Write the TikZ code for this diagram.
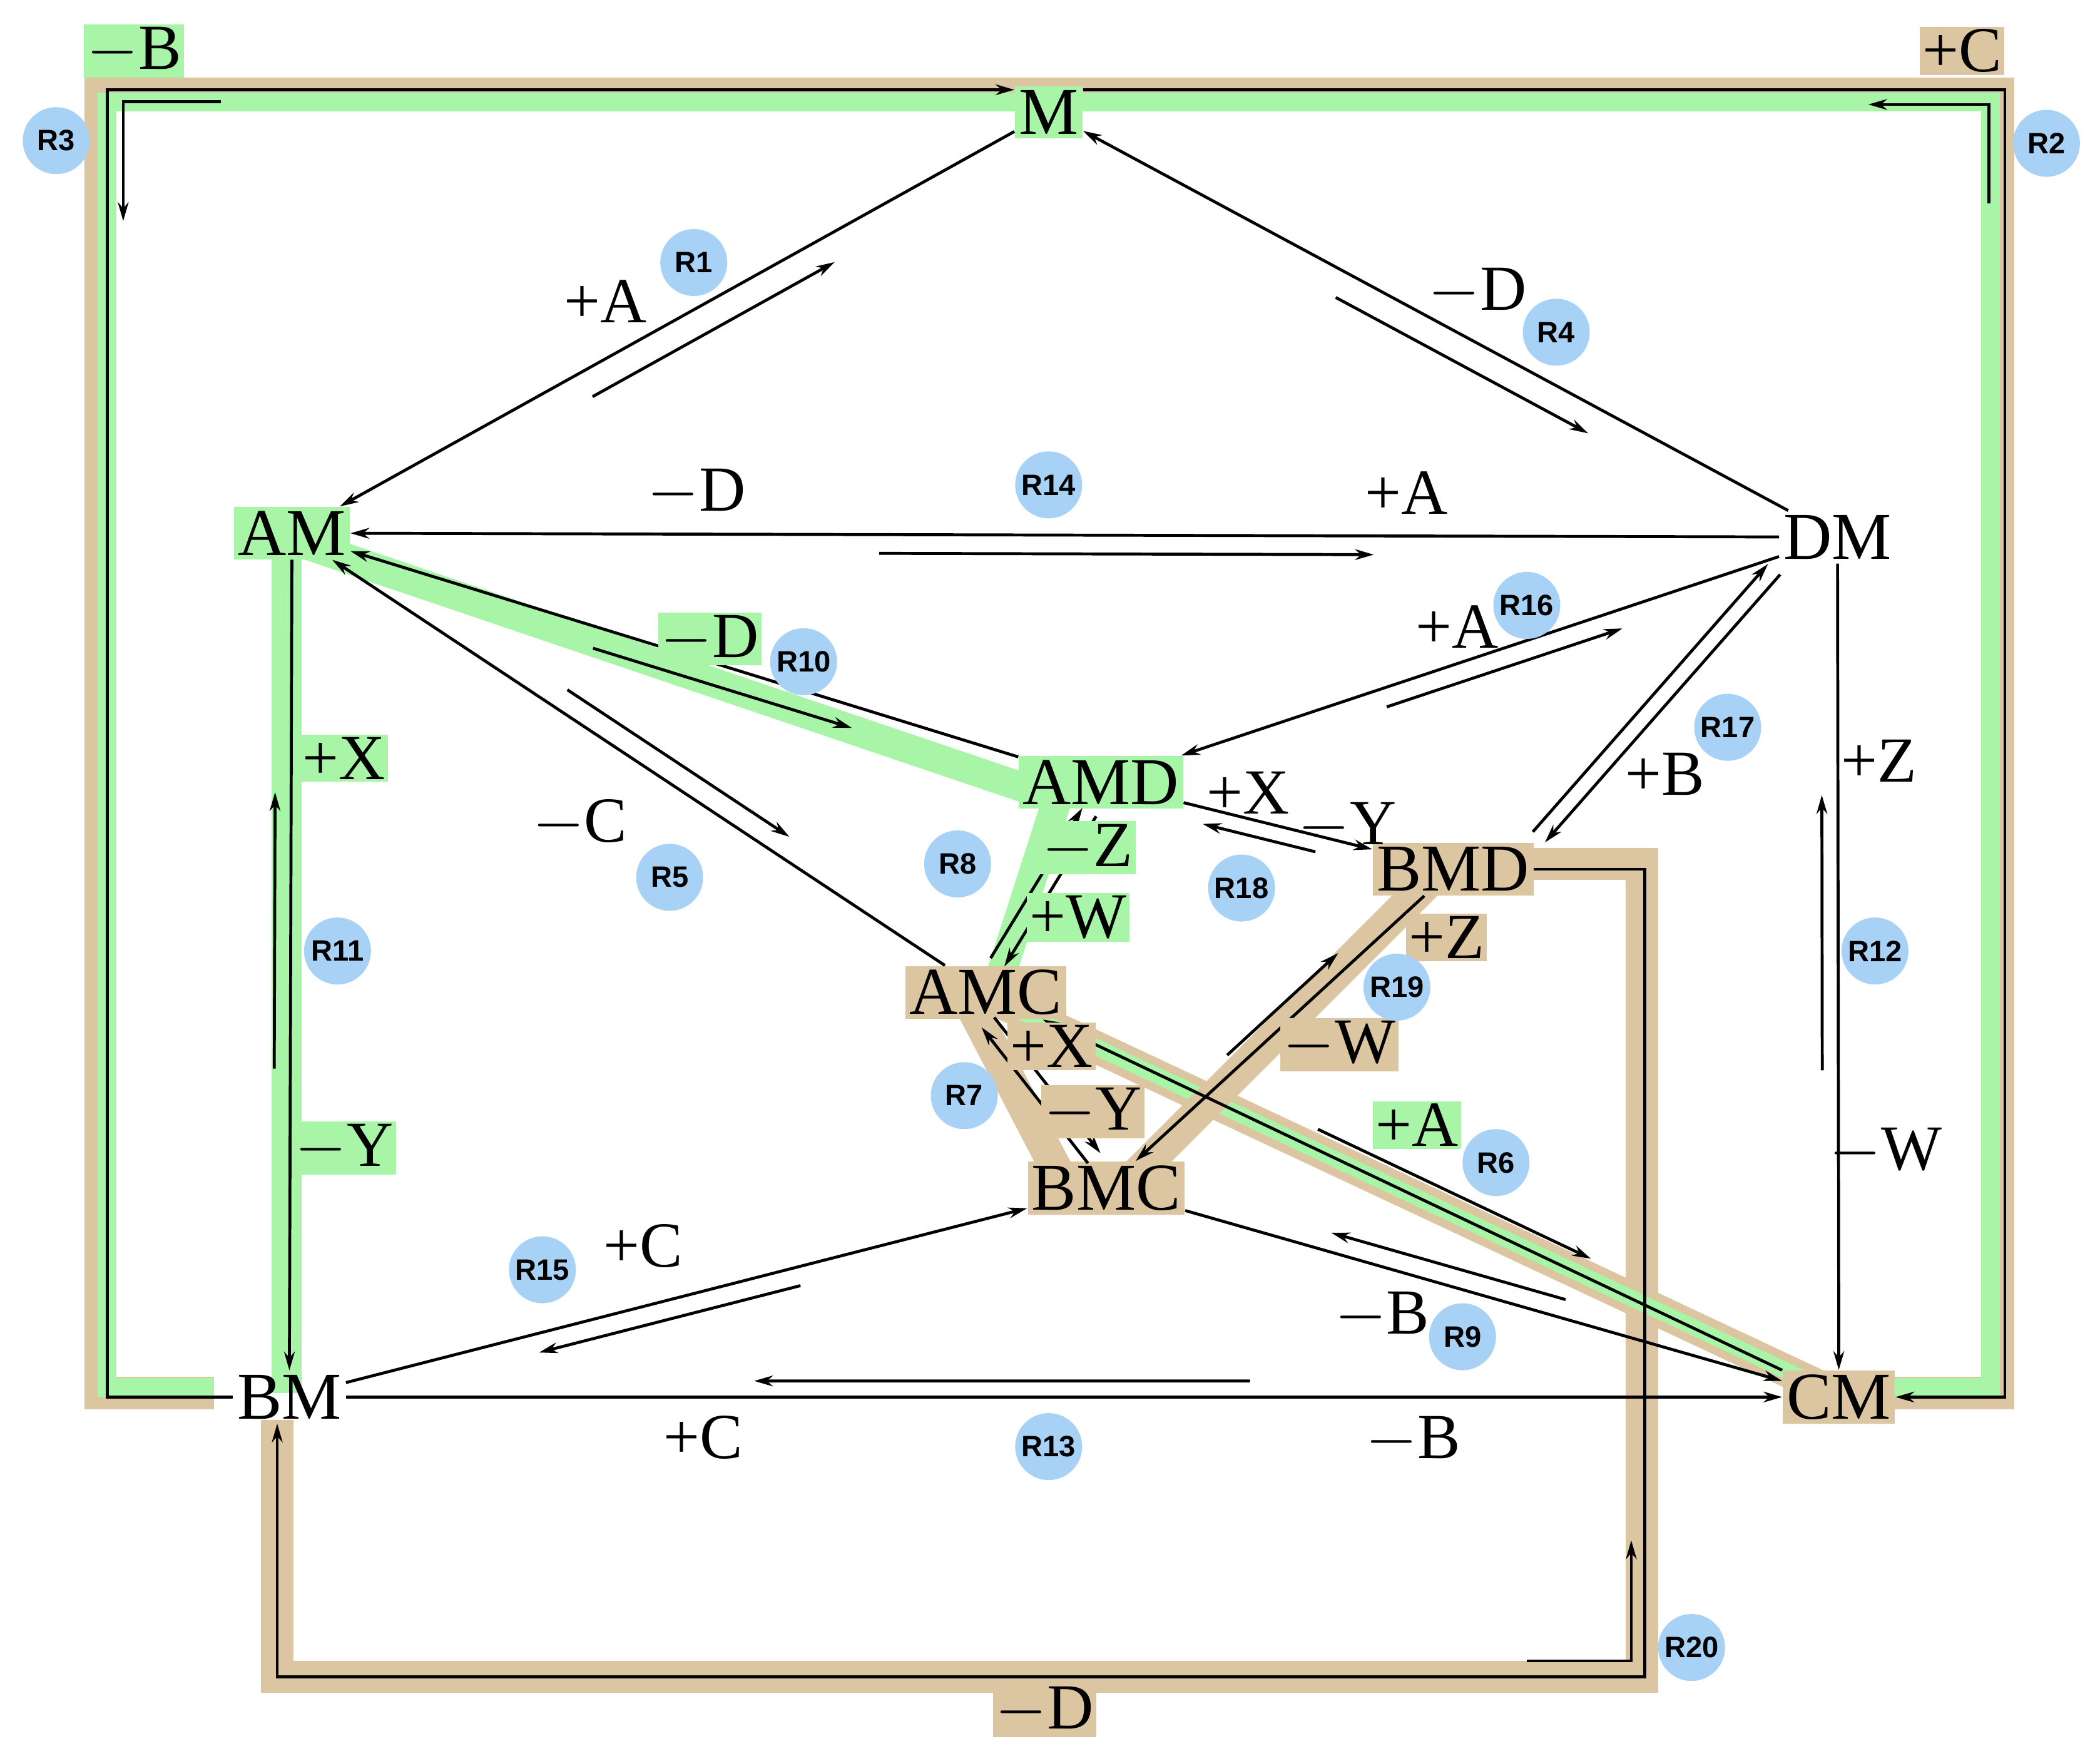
\documentclass[tikz,border=0pt]{standalone}
\usepackage{fontspec}
\setmainfont{Liberation Serif}
\newfontfamily\badgefont{Liberation Sans}
\usetikzlibrary{calc,arrows.meta}
\definecolor{hlg}{HTML}{A8F5A8}
\definecolor{hlt}{HTML}{DCC6A2}
\definecolor{bdg}{HTML}{A8D2F5}
\tikzset{
 sp/.style={font=\fontsize{25}{25}\selectfont,inner sep=1.5pt},
 spg/.style={sp,fill=hlg},
 spt/.style={sp,fill=hlt},
 lab/.style={font=\fontsize{24}{24}\selectfont,inner sep=1pt},
 labg/.style={lab,fill=hlg},
 labt/.style={lab,fill=hlt},
 badge/.style={circle,fill=bdg,minimum size=25pt,inner sep=0pt,font=\badgefont\bfseries\fontsize{11}{11}\selectfont},
 rl/.style={line width=1.1pt,-{Stealth[length=7pt,width=4pt]}},
 bandg/.style={line width=11pt,hlg,line join=miter},
 bandt/.style={line width=12pt,hlt,line join=miter},
}
\newcommand\rxn[3]{%
 \draw[rl] (#1) -- (#2);
 \draw[rl] ($(#1)!0.62!(#2)!#3!90:(#2)$) -- ($(#1)!0.3!(#2)!#3!90:(#2)$);}
\newcommand\dbl[3]{%
 \draw[rl] ($(#1)!0.02!(#2)!#3!90:(#2)$) -- ($(#1)!0.98!(#2)!#3!90:(#2)$);
 \draw[rl] ($(#1)!0.98!(#2)!-#3!90:(#2)$) -- ($(#1)!0.02!(#2)!-#3!90:(#2)$);}
\begin{document}
\begin{tikzpicture}[x=0.5pt,y=-0.5pt]
\useasboundingbox (0,0) rectangle (1568,1307);
% highlight bands
\draw[bandt] (160,1040) -- (75,1040) -- (75,70) -- (1492,70) -- (1492,1040) -- (1400,1040);
\draw[bandg,line width=7pt] (160,1036) -- (80,1036) -- (80,76) -- (1486,76) -- (1486,1036) -- (1400,1036);
\draw[bandt] (207,1060) -- (207,1252) -- (1226,1252) -- (1226,645) -- (1140,645);
\draw[bandg] (214,405) -- (214,1040);
\draw[bandg] (215,402) -- (770,590);
\draw[bandg] (790,595) -- (745,735);
\draw[bandt] (740,745) -- (1365,1038);
\draw[bandg,line width=6pt] (740,745) -- (1365,1038);
\draw[bandt] (1070,655) -- (840,885);
\draw[bandt] (722,745) -- (795,885);
% nodes
\node[spg] (M) at (783,84) {M};
\node[spg] (AM) at (218,398) {AM};
\node[sp] (DM) at (1372,401) {DM};
\node[spg] (AMD) at (822,584) {AMD};
\node[spt] (BMD) at (1085,649) {BMD};
\node[spt] (AMC) at (736,741) {AMC};
\node[spt] (BMC) at (826,887) {BMC};
\node[sp] (BM) at (216,1043) {BM};
\node[spt] (CM) at (1373,1043) {CM};
% reactions
\rxn{M}{AM}{10pt}
\rxn{DM}{M}{10pt}
\rxn{DM}{AM}{7pt}
\rxn{AMD}{AM}{8pt}
\rxn{AMC}{AM}{-8pt}
\rxn{DM}{AMD}{7pt}
\dbl{BMD.north east}{DM.south west}{3pt}
\rxn{DM}{CM}{-6pt}
\rxn{AMD}{BMD}{-6pt}
\dbl{AMD.250}{AMC.70}{3pt}
\dbl{AMC.south}{BMC.110}{3pt}
\rxn{BMD}{BMC}{-6pt}
\rxn{CM}{AMC}{-7pt}
\rxn{BMC}{CM}{7pt}
\rxn{BM}{BMC}{-7pt}
\rxn{BM}{CM}{6pt}
\rxn{AM}{BM}{-6pt}
% loops
\coordinate (a1) at (80,1043); \coordinate (a2) at (80,67);
\draw[rl] (BM.west) -- (a1) -- (a2) -- (a2 -| M.west);
\coordinate (b1) at (165,76); \coordinate (b2) at (92,76); \coordinate (b3) at (92,165);
\draw[rl] (b1) -- (b2) -- (b3);
\coordinate (c1) at (1497,67); \coordinate (c2) at (1497,1043);
\draw[rl] (c1 -| M.east) -- (c1) -- (c2) -- (CM.east);
\coordinate (d1) at (1485,152); \coordinate (d2) at (1485,78); \coordinate (d3) at (1395,78);
\draw[rl] (d1) -- (d2) -- (d3);
\coordinate (e1) at (1228,649); \coordinate (e2) at (1228,1252); \coordinate (e3) at (207,1252);
\draw[rl] (BMD.east) -- (e1) -- (e2) -- (e3) -- (BM.south -| e3);
\coordinate (f1) at (1140,1240); \coordinate (f2) at (1218,1240); \coordinate (f3) at (1218,1150);
\draw[rl] (f1) -- (f2) -- (f3);
% labels
\node[labg] (l1) at (100,38) {$-$B};
\node[labt] (l2) at (1465,38) {+C};
\node[lab] (l3) at (452,225) {+A};
\node[lab] (l4) at (1103,218) {$-$D};
\node[lab] (l5) at (520,368) {$-$D};
\node[lab] (l6) at (1050,368) {+A};
\node[labg] (l7) at (530,477) {$-$D};
\node[lab] (l8) at (1088,468) {+A};
\node[lab] (l9) at (433,615) {$-$C};
\node[lab] (l10) at (1243,578) {+B};
\node[lab] (l11) at (1403,568) {+Z};
\node[labg] (l12) at (257,566) {+X};
\node[labg] (l13) at (257,857) {$-$Y};
\node[labg] (l14) at (812,633) {$-$Z};
\node[labg] (l15) at (805,685) {+W};
\node[lab] (l16) at (932,592) {+X};
\node[lab] (l17) at (1006,617) {$-$Y};
\node[labt] (l18) at (1080,700) {+Z};
\node[labt] (l19) at (1000,780) {$-$W};
\node[labt] (l20) at (785,781) {+X};
\node[labt] (l21) at (816,830) {$-$Y};
\node[labg] (l22) at (1058,840) {+A};
\node[lab] (l23) at (480,930) {+C};
\node[lab] (l24) at (1032,982) {$-$B};
\node[lab] (l25) at (1408,860) {$-$W};
\node[lab] (l26) at (525,1073) {+C};
\node[lab] (l27) at (1055,1075) {$-$B};
\node[labt] (l28) at (780,1277) {$-$D};
% badges
\foreach \n/\x/\y in {R1/518/196,R2/1528/107,R3/42/105,R4/1162/248,R14/783/362,R16/1140/452,R10/600/494,R17/1290/543,R5/500/655,R8/715/645,R18/927/663,R11/252/710,R12/1400/710,R19/1043/737,R7/720/818,R6/1117/868,R15/405/948,R9/1092/998,R13/783/1080,R20/1263/1230}
 \node[badge] (\n) at (\x,\y) {\n};
\end{tikzpicture}
\end{document}
